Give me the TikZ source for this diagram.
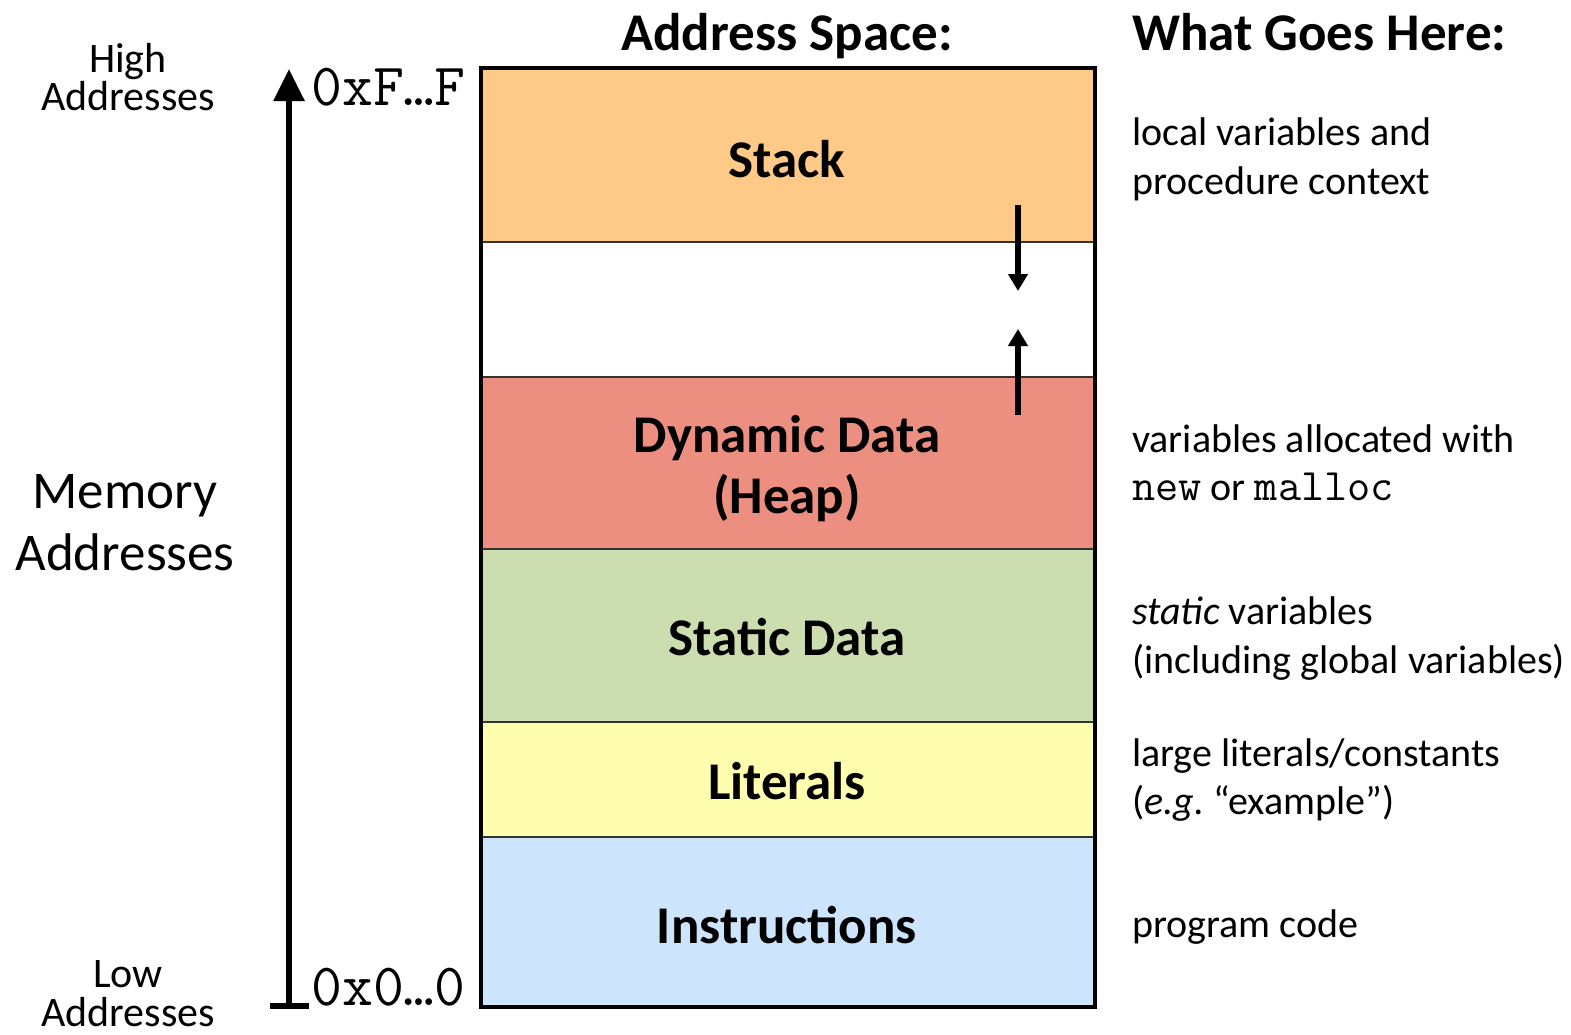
\documentclass[tikz,border=0pt]{standalone}
\usepackage{fontspec}
\setmainfont{Carlito}
\usetikzlibrary{arrows.meta}
\definecolor{stackc}{HTML}{FFC988}
\definecolor{heapc}{HTML}{EC8F80}
\definecolor{staticc}{HTML}{CCDEB0}
\definecolor{litc}{HTML}{FFFEAE}
\definecolor{instc}{HTML}{CCE4FC}
\newcommand{\fs}[1]{\fontsize{#1}{#1}\selectfont}
\begin{document}
\begin{tikzpicture}[x=1pt,y=-1pt,
  seg/.style={draw=black!80,line width=1.5pt},
  segtext/.style={font=\fs{53}\bfseries,inner sep=0pt,anchor=base},
  desc/.style={font=\fs{40},anchor=base west,inner sep=0pt},
  addr/.style={font=\fs{60}\ttfamily,anchor=base west,inner sep=0pt},
  side/.style={font=\fs{42},inner sep=0pt,anchor=base,text height=28pt,text depth=0pt},
  head/.style={font=\fs{53}\bfseries,inner sep=0pt,anchor=base},
  growarrow/.style={line width=6pt,-{Triangle[length=17pt,width=19pt]}}]
\useasboundingbox (0,0) rectangle (1571,1034);
% segments
\fill[stackc] (481,68) rectangle (1095,242);
\fill[white] (481,242) rectangle (1095,377);
\fill[heapc] (481,377) rectangle (1095,549);
\fill[staticc] (481,549) rectangle (1095,722);
\fill[litc] (481,722) rectangle (1095,837);
\fill[instc] (481,837) rectangle (1095,1007);
\draw[seg] (481,242) -- (1095,242);
\draw[seg] (481,377) -- (1095,377);
\draw[seg] (481,549) -- (1095,549);
\draw[seg] (481,722) -- (1095,722);
\draw[seg] (481,837) -- (1095,837);
\draw[line width=4pt] (481,68) rectangle (1095,1007);
% segment labels
\node[segtext] (stack) at (787,177) {Stack};
\node[segtext] (dyn) at (787,452) {Dynamic Data};
\node[segtext] (heap) at (787,513) {(Heap)};
\node[segtext] (static) at (787,655) {Static Data};
\node[segtext] (lit) at (787,799) {Literals};
\node[segtext] (inst) at (787,943) {Instructions};
% growth arrows
\coordinate (sa1) at (1018,205);
\coordinate (sa2) at (1018,291);
\coordinate (ha1) at (1018,415);
\coordinate (ha2) at (1018,329);
\draw[growarrow] (sa1) -- (sa2);
\draw[growarrow] (ha1) -- (ha2);
% headings
\node[head] (ash) at (787,50) {Address Space:};
\node[head,anchor=base west] (wgh) at (1132,50) {What Goes Here:};
% address axis
\coordinate (axb) at (289,1006);
\coordinate (axt) at (289,69);
\coordinate (tl) at (270,1006);
\coordinate (tr) at (309,1006);
\draw[line width=6pt,-{Triangle[length=32pt,width=30pt]}] (axb) -- (axt);
\draw[line width=6pt] (tl) -- (tr);
\node[addr] (hi) at (311,105) {0xF…F};
\node[addr] (lo) at (311,1005) {0x0…0};
\node[side] (high1) at (128,72) {High};
\node[side] (high2) at (128,110) {Addresses};
\node[side] (low1) at (128,987) {Low};
\node[side] (low2) at (128,1026) {Addresses};
\node[font=\fs{53},inner sep=0pt,anchor=base] (mem1) at (125,508) {Memory};
\node[font=\fs{53},inner sep=0pt,anchor=base] (mem2) at (125,570) {Addresses};
% descriptions
\node[desc] (d1a) at (1132,145) {local variables and};
\node[desc] (d1b) at (1132,194) {procedure context};
\node[desc] (d2a) at (1132,452) {variables allocated with};
\node[desc] (d2b) at (1132,500) {{\ttfamily\fs{45}new} or {\ttfamily\fs{45}malloc}};
\node[desc] (d3a) at (1132,624) {\textit{static} variables};
\node[desc] (d3b) at (1132,673) {(including global variables)};
\node[desc] (d4a) at (1132,766) {large literals/constants};
\node[desc] (d4b) at (1132,814) {(\textit{e.g.}\ “example”)};
\node[desc] (d5) at (1132,937) {program code};
\end{tikzpicture}
\end{document}
